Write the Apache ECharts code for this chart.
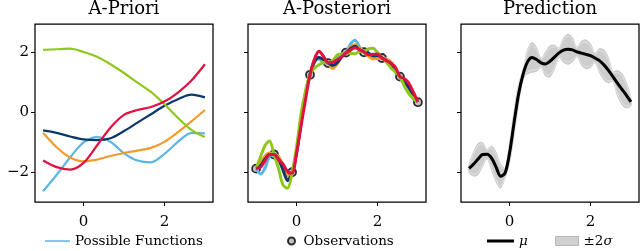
<!DOCTYPE html>
<html><head><meta charset="utf-8">
<script src="https://cdn.jsdelivr.net/npm/echarts@6/dist/echarts.min.js"></script>
<style>html,body{margin:0;padding:0;background:#fff}#c{width:640px;height:251px}</style>
</head><body><div id="c"></div>
<script>
const titles = ['A-Priori', 'A-Posteriori', 'Prediction'];
const xTicks = [0, 2];
const yTicks = [-2, 0, 2];

// A-Priori samples
const priorX = [-1, -0.667, -0.333, 0, 0.333, 0.667, 1, 1.333, 1.667, 2, 2.333, 2.667, 3];
const priorLightBlue = [-2.62, -2.08, -1.5, -1.0, -0.82, -0.98, -1.36, -1.6, -1.66, -1.38, -0.98, -0.68, -0.7];
const priorOrange = [-0.68, -1.16, -1.5, -1.63, -1.57, -1.45, -1.35, -1.27, -1.18, -0.98, -0.66, -0.3, 0.08];
const priorNavy = [-0.6, -0.68, -0.8, -0.9, -0.92, -0.86, -0.62, -0.34, -0.06, 0.22, 0.44, 0.59, 0.5];
const priorGreen = [2.08, 2.10, 2.12, 2.01, 1.85, 1.6, 1.31, 0.99, 0.68, 0.27, -0.18, -0.58, -0.82];
const priorRed = [-1.6, -1.82, -1.9, -1.68, -1.1, -0.5, -0.08, 0.08, 0.18, 0.36, 0.66, 1.06, 1.6];

// A-Posteriori samples
const postX = [-1, -0.889, -0.778, -0.667, -0.556, -0.444, -0.333, -0.222, -0.111, 0, 0.111, 0.222, 0.333,
  0.444, 0.556, 0.667, 0.778, 0.889, 1, 1.111, 1.222, 1.333, 1.444, 1.556, 1.667, 1.778, 1.889, 2,
  2.111, 2.222, 2.333, 2.444, 2.556, 2.667, 2.778, 2.889, 3];
const postLightBlue = [-1.86, -2.05, -1.85, -1.45, -1.40, -1.47, -1.82, -2.22, -2.02, -1.30, -0.30, 0.62, 1.26,
  1.73, 1.78, 1.66, 1.65, 1.66, 1.80, 1.89, 1.98, 2.27, 2.40, 2.18, 2.01, 1.92, 1.83, 1.89,
  1.81, 1.77, 1.58, 1.35, 1.19, 0.92, 0.67, 0.45, 0.35];
const postOrange = [-1.86, -1.67, -1.45, -1.35, -1.40, -1.47, -1.77, -2.12, -2.02, -1.35, -0.35, 0.62, 1.26,
  1.68, 1.83, 1.71, 1.65, 1.46, 1.60, 1.84, 1.98, 2.17, 2.25, 2.13, 2.01, 1.87, 1.78, 1.79,
  1.81, 1.77, 1.68, 1.45, 1.19, 0.92, 0.72, 0.52, 0.35];
const postNavy = [-1.86, -1.77, -1.55, -1.40, -1.40, -1.57, -1.92, -2.27, -2.02, -1.35, -0.35, 0.62, 1.26,
  1.68, 1.83, 1.76, 1.65, 1.56, 1.65, 1.84, 1.98, 2.12, 2.20, 2.08, 2.01, 1.97, 1.88, 1.89,
  1.81, 1.72, 1.63, 1.40, 1.19, 1.02, 0.82, 0.57, 0.35];
const postGreen = [-1.86, -1.47, -1.10, -0.95, -1.40, -1.87, -2.42, -2.52, -2.02, -1.15, -0.05, 0.72, 1.26,
  1.48, 1.58, 1.66, 1.65, 1.71, 1.90, 1.94, 1.98, 1.97, 1.95, 2.03, 2.01, 2.12, 2.13, 1.99,
  1.81, 1.67, 1.48, 1.35, 1.19, 0.87, 0.62, 0.47, 0.35];
const postRed = [-1.86, -1.82, -1.60, -1.40, -1.40, -1.57, -1.72, -1.97, -2.02, -1.35, -0.45, 0.42, 1.26,
  1.78, 2.03, 1.86, 1.65, 1.66, 1.75, 1.84, 1.98, 2.07, 2.15, 2.08, 2.01, 1.92, 1.93, 1.94,
  1.81, 1.72, 1.63, 1.50, 1.19, 1.12, 0.97, 0.67, 0.35];
const obsX = [-1, -0.556, -0.111, 0.333, 0.778, 1.222, 1.667, 2.111, 2.556, 3];
const obsY = [-1.87, -1.40, -1.99, 1.25, 1.64, 1.99, 2.00, 1.81, 1.19, 0.34];

// Prediction
const predMean = [-1.86, -1.72, -1.55, -1.40, -1.39, -1.52, -1.82, -2.12, -2.02, -1.35, -0.35, 0.60, 1.26,
  1.68, 1.83, 1.76, 1.65, 1.61, 1.70, 1.84, 1.98, 2.07, 2.10, 2.08, 2.01, 1.97, 1.93, 1.89,
  1.81, 1.72, 1.58, 1.40, 1.19, 0.97, 0.77, 0.57, 0.35];
const predTwoSigma = [0.14, 0.4, 0.52, 0.4, 0.16, 0.4, 0.5, 0.4, 0.16, 0.34, 0.42, 0.34, 0.16,
  0.4, 0.5, 0.4, 0.16, 0.4, 0.52, 0.4, 0.16, 0.4, 0.5, 0.4, 0.16, 0.4, 0.48, 0.4,
  0.16, 0.4, 0.5, 0.42, 0.16, 0.42, 0.52, 0.42, 0.14];

const colors = {lightBlue: '#5cb5e6', orange: '#f29b2c', navy: '#0b386a', green: '#8fc81a', red: '#e0113f'};
const FONT = 'DejaVu Serif';

const zip = (xs, ys) => xs.map((x, i) => [x, ys[i]]);
const lineSeries = (name, xs, ys, color, idx, width) => ({
  name, type: 'line', xAxisIndex: idx, yAxisIndex: idx, data: zip(xs, ys),
  showSymbol: false, symbol: 'none', smooth: 0.3, lineStyle: {color, width}, itemStyle: {color},
  emphasis: {disabled: true}, silent: true
});

const lefts = [35, 248, 461];
const grids = lefts.map(l => ({left: l, top: 24, width: 178, height: 178, show: true,
  borderColor: '#000', borderWidth: 1.25, backgroundColor: '#fff'}));
const fmt = v => String(v).replace('-', '\u2212');
const xAxes = lefts.map((l, i) => ({
  type: 'value', gridIndex: i, min: -1.2, max: 3.2,
  splitLine: {show: false}, axisLine: {show: false, onZero: false},
  axisTick: {show: true, length: 4, customValues: xTicks, lineStyle: {color: '#000', width: 1}},
  axisLabel: {show: true, customValues: xTicks, formatter: fmt, margin: 13, color: '#000', fontFamily: FONT, fontSize: 15}
}));
const yAxes = lefts.map((l, i) => ({
  type: 'value', gridIndex: i, min: -2.98, max: 2.94,
  splitLine: {show: false}, axisLine: {show: false, onZero: false},
  axisTick: {show: true, length: 4, customValues: yTicks, lineStyle: {color: '#000', width: 1}},
  axisLabel: {show: i === 0, customValues: yTicks, formatter: fmt, margin: 6, color: '#000', fontFamily: FONT, fontSize: 15}
}));

const bandSeries = {
  name: '\u00b12\u03c3', type: 'custom', xAxisIndex: 2, yAxisIndex: 2, silent: true, clip: true,
  data: postX.map((x, i) => [x, predMean[i], predTwoSigma[i]]),
  itemStyle: {color: '#cecece'},
  renderItem: (params, api) => {
    if (params.dataIndex !== 0) return null;
    const edge = (k) => postX.map((x, i) => api.coord([x, predMean[i] + k * predTwoSigma[i]]));
    const top = edge(1), bot = edge(-1);
    return {type: 'group', children: [
      {type: 'polygon', shape: {points: top.concat(bot.slice().reverse()), smooth: 0.3},
       style: {fill: '#cdcdcd', stroke: '#c6c6c6', lineWidth: 0.8}},
      {type: 'polyline', shape: {points: edge(0.85), smooth: 0.3},
       style: {fill: null, stroke: '#e8e8e8', lineWidth: 0.8}},
      {type: 'polyline', shape: {points: edge(-0.85), smooth: 0.3},
       style: {fill: null, stroke: '#e8e8e8', lineWidth: 0.8}}
    ]};
  }
};

const series = [
  lineSeries('Possible Functions', priorX, priorLightBlue, colors.lightBlue, 0, 2.2),
  lineSeries('p2', priorX, priorOrange, colors.orange, 0, 2.2),
  lineSeries('p3', priorX, priorNavy, colors.navy, 0, 2.2),
  lineSeries('p4', priorX, priorGreen, colors.green, 0, 2.2),
  lineSeries('p5', priorX, priorRed, colors.red, 0, 2.2),
  lineSeries('q1', postX, postLightBlue, colors.lightBlue, 1, 3),
  lineSeries('q2', postX, postOrange, colors.orange, 1, 3),
  lineSeries('q3', postX, postNavy, colors.navy, 1, 3),
  lineSeries('q4', postX, postGreen, colors.green, 1, 3),
  lineSeries('q5', postX, postRed, colors.red, 1, 3),
  {name: 'Observations', type: 'scatter', xAxisIndex: 1, yAxisIndex: 1, data: zip(obsX, obsY),
   symbol: 'circle', symbolSize: 8, silent: true,
   itemStyle: {color: 'rgba(40,40,40,0.35)', borderColor: '#000', borderWidth: 1.8}},
  bandSeries,
  lineSeries('\u03bc', postX, predMean, '#000', 2, 3)
];

const legendBase = {orient: 'horizontal', padding: 0, selectedMode: false,
  textStyle: {fontFamily: FONT, fontSize: 13.5, color: '#000',
    rich: {i: {fontFamily: FONT, fontSize: 13.5, fontStyle: 'italic', color: '#000'}}}};
const legends = [
  Object.assign({}, legendBase, {left: 45, top: 234, itemWidth: 25, itemHeight: 1.5,
    data: [{name: 'Possible Functions', icon: 'rect', itemStyle: {color: colors.lightBlue}}]}),
  Object.assign({}, legendBase, {left: 287, top: 234, itemWidth: 14, itemHeight: 7,
    data: ['Observations']}),
  Object.assign({}, legendBase, {left: 487, top: 234, itemWidth: 27, itemHeight: 3,
    data: [{name: '\u03bc', icon: 'rect', itemStyle: {color: '#000'}}], formatter: n => '{i|' + n + '}'}),
  Object.assign({}, legendBase, {left: 555, top: 234, itemWidth: 23, itemHeight: 9,
    data: [{name: '\u00b12\u03c3', icon: 'rect', itemStyle: {color: '#d0d0d0', borderColor: '#b8b8b8', borderWidth: 1}}],
    formatter: n => '\u00b12{i|\u03c3}'})
];

const chart = echarts.init(document.getElementById('c'), null, {renderer: 'canvas'});
chart.setOption({
  animation: false,
  backgroundColor: '#fff',
  title: titles.map((t, i) => ({text: t, left: lefts[i] + 89, top: 0, padding: 0, textAlign: 'center',
    textStyle: {fontFamily: FONT, fontSize: 18, fontWeight: 'normal', color: '#000'}})),
  grid: grids, xAxis: xAxes, yAxis: yAxes, legend: legends, series
});
</script></body></html>
